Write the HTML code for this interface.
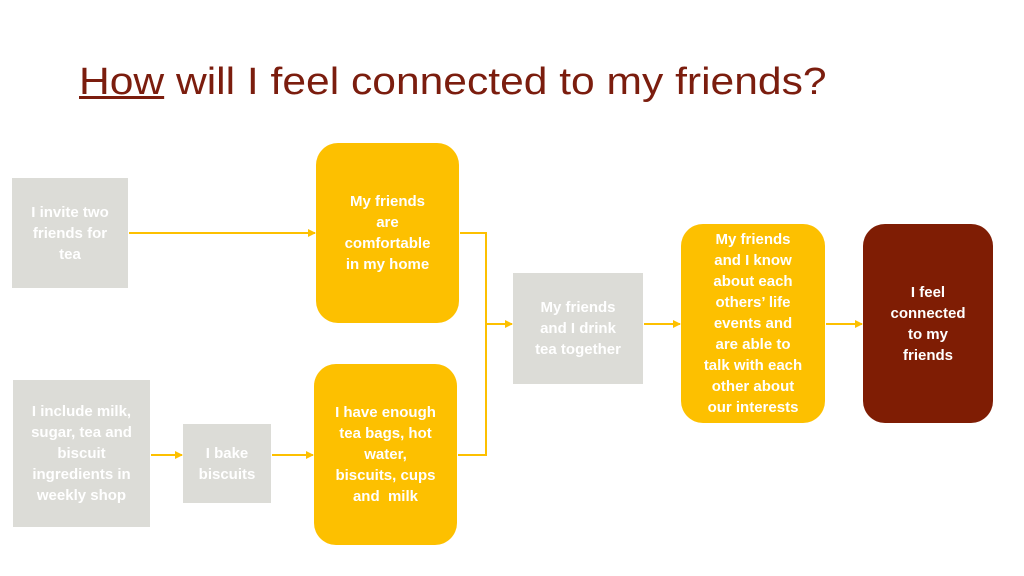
<!DOCTYPE html>
<html><head><meta charset="utf-8"><style>
body{margin:0;width:1024px;height:576px;background:#fff;position:relative;overflow:hidden;font-family:"Liberation Sans",sans-serif}
.b{position:absolute;display:flex;align-items:center;justify-content:center;text-align:center;color:#fff;font-weight:bold;font-size:15px;line-height:21px;box-sizing:border-box}
.g{background:#dcdcd7}
.y{background:#fdc000;border-radius:22px}
.r{background:#7f1d04;border-radius:22px}
#t{position:absolute;left:79px;top:61px;font-size:38px;color:#7b1d0e;white-space:nowrap;transform-origin:0 0;transform:scaleX(1.12)}
</style></head><body>
<div id="t"><u>How</u> will I feel connected to my friends?</div>
<svg style="position:absolute;left:0;top:0" width="1024" height="576">
<defs><marker id="a" markerWidth="8" markerHeight="8" refX="7" refY="4" orient="auto" markerUnits="userSpaceOnUse"><path d="M0,0L8,4L0,8z" fill="#fdc000"/></marker></defs>
<g stroke="#fdc000" stroke-width="2" fill="none">
<line x1="129" y1="233" x2="315" y2="233" marker-end="url(#a)"/>
<line x1="151" y1="455" x2="182" y2="455" marker-end="url(#a)"/>
<line x1="272" y1="455" x2="313" y2="455" marker-end="url(#a)"/>
<polyline points="460,233 486,233 486,455 458,455"/>
<line x1="486" y1="324" x2="512" y2="324" marker-end="url(#a)"/>
<line x1="644" y1="324" x2="680" y2="324" marker-end="url(#a)"/>
<line x1="826" y1="324" x2="862" y2="324" marker-end="url(#a)"/>
</g></svg>
<div class="b g" style="left:12px;top:178px;width:116px;height:110px">I invite two<br>friends for<br>tea</div>
<div class="b y" style="left:316px;top:143px;width:143px;height:180px">My friends<br>are<br>comfortable<br>in my home</div>
<div class="b g" style="left:13px;top:380px;width:137px;height:147px">I include milk,<br>sugar, tea and<br>biscuit<br>ingredients in<br>weekly shop</div>
<div class="b g" style="left:183px;top:424px;width:88px;height:79px">I bake<br>biscuits</div>
<div class="b y" style="left:314px;top:364px;width:143px;height:181px">I have enough<br>tea bags, hot<br>water,<br>biscuits, cups<br>and &nbsp;milk</div>
<div class="b g" style="left:513px;top:273px;width:130px;height:111px">My friends<br>and I drink<br>tea together</div>
<div class="b y" style="left:681px;top:224px;width:144px;height:199px">My friends<br>and I know<br>about each<br>others’ life<br>events and<br>are able to<br>talk with each<br>other about<br>our interests</div>
<div class="b r" style="left:863px;top:224px;width:130px;height:199px">I feel<br>connected<br>to my<br>friends</div>
</body></html>
